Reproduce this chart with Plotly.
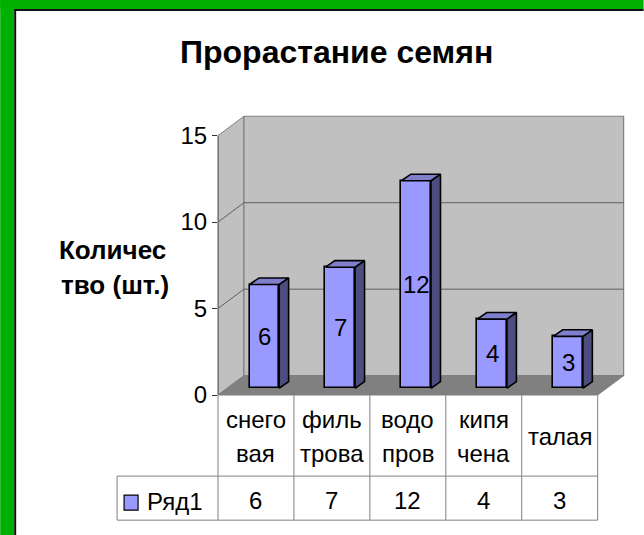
import plotly.graph_objects as go

# ---- data ----
categories = ["снего\nвая", "филь\nтрова", "водо\nпров", "кипя\nчена", "талая"]
values = [6, 7, 12, 4, 3]
series_name = "Ряд1"
y_ticks = [0, 5, 10, 15]
title_text = "Прорастание семян"
y_title_lines = ["Количес", "тво (шт.)"]

# ---- geometry / style ----
W, H = 644, 535
FONT = "Liberation Sans"
DX, DY = 0.342, 1.12          # depth of the 3D box (data units)
BAR_SHIFT_X, BAR_BASE = 0.11, 0.39   # bar front plane inside the box
BAR_W = 0.39
BDX, BDY = 0.125, 0.38        # bar depth
YMAX_WALL = 15
XMAX, YMAX = 5.36, 16.25
PXX, PXY = 76.0, 17.27
L = 218
B = H - 395
T = 395 - YMAX * PXY
R = W - (L + XMAX * PXX)
plot_w = W - L - R
plot_h = H - T - B

def px_x(px):
    return (px - L) / plot_w

def px_y(py):
    return (H - B - py) / plot_h

def dx_paper(xd):
    return xd / XMAX

n = len(values)
centers = [i + 0.5 + BAR_SHIFT_X for i in range(n)]

fig = go.Figure()

# front faces of the bars
fig.add_trace(go.Bar(
    x=centers, y=values, base=BAR_BASE, width=BAR_W,
    marker=dict(color="#9999FF", line=dict(color="black", width=1.6)),
    showlegend=False, hoverinfo="skip",
))

# side and top faces
sx, sy, tx, ty = [], [], [], []
for c, v in zip(centers, values):
    x0, x1 = c - BAR_W / 2, c + BAR_W / 2
    b, t = BAR_BASE, BAR_BASE + v
    sx += [x1, x1 + BDX, x1 + BDX, x1, x1, None]
    sy += [b, b + BDY, t + BDY, t, b, None]
    tx += [x0, x1, x1 + BDX, x0 + BDX, x0, None]
    ty += [t, t, t + BDY, t + BDY, t, None]
fig.add_trace(go.Scatter(x=sx, y=sy, mode="lines", fill="toself", fillcolor="#4D4D80",
                         line=dict(color="black", width=1.6), showlegend=False, hoverinfo="skip"))
fig.add_trace(go.Scatter(x=tx, y=ty, mode="lines", fill="toself", fillcolor="#7F7FCC",
                         line=dict(color="black", width=1.6), showlegend=False, hoverinfo="skip"))

shapes = []

def path(pts):
    return "M " + " L ".join(f"{x},{y}" for x, y in pts) + " Z"

# walls and floor
shapes.append(dict(type="path", xref="x", yref="y", layer="below",
                   path=path([(0, 0), (0, YMAX_WALL), (DX, YMAX_WALL + DY), (DX, DY)]),
                   fillcolor="#C0C0C0", line=dict(color="#808080", width=1)))
shapes.append(dict(type="path", xref="x", yref="y", layer="below",
                   path=path([(DX, DY), (n + DX, DY), (n + DX, YMAX_WALL + DY), (DX, YMAX_WALL + DY)]),
                   fillcolor="#C0C0C0", line=dict(color="#808080", width=1.2)))
shapes.append(dict(type="path", xref="x", yref="y", layer="below",
                   path=path([(0, 0), (n, 0), (n + DX, DY), (DX, DY)]),
                   fillcolor="#808080", line=dict(color="#808080", width=1)))
# gridlines
for v in y_ticks[1:-1]:
    shapes.append(dict(type="line", xref="x", yref="y", layer="below",
                       x0=DX, x1=n + DX, y0=v + DY, y1=v + DY, line=dict(color="#606060", width=1)))
    shapes.append(dict(type="line", xref="x", yref="y", layer="below",
                       x0=0, x1=DX, y0=v, y1=v + DY, line=dict(color="#606060", width=1)))

# value axis line (front-left edge)
shapes.append(dict(type="line", xref="paper", yref="paper",
                   x0=0, x1=0, y0=0, y1=px_y(395 - YMAX_WALL * PXY),
                   line=dict(color="#555555", width=1)))

# data table
GRID = dict(color="#808080", width=1)
row1, row2 = 476, 520
leg_left = 117
shapes.append(dict(type="line", xref="paper", yref="paper", x0=0, x1=dx_paper(n), y0=0, y1=0, line=GRID))
for yy in (row1, row2):
    shapes.append(dict(type="line", xref="paper", yref="paper", x0=px_x(leg_left), x1=dx_paper(n),
                       y0=px_y(yy), y1=px_y(yy), line=GRID))
for i in range(n + 1):
    shapes.append(dict(type="line", xref="paper", yref="paper", x0=dx_paper(i), x1=dx_paper(i),
                       y0=0, y1=px_y(row2), line=GRID))
shapes.append(dict(type="line", xref="paper", yref="paper", x0=px_x(leg_left), x1=px_x(leg_left),
                   y0=px_y(row1), y1=px_y(row2), line=GRID))
# legend key
shapes.append(dict(type="rect", xref="paper", yref="paper", x0=px_x(124), x1=px_x(138),
                   y0=px_y(495), y1=px_y(510), fillcolor="#9999FF", line=dict(color="black", width=1.2)))

# green frame
GREEN = "#00B000"
shapes.append(dict(type="rect", xref="paper", yref="paper", x0=px_x(0), x1=px_x(14),
                   y0=px_y(0), y1=px_y(H), fillcolor=GREEN, line=dict(width=0), layer="above"))
shapes.append(dict(type="rect", xref="paper", yref="paper", x0=px_x(0), x1=px_x(W),
                   y0=px_y(0), y1=px_y(9.5), fillcolor=GREEN, line=dict(width=0), layer="above"))
shapes.append(dict(type="line", xref="paper", yref="paper", x0=px_x(15), x1=px_x(15),
                   y0=px_y(9.5), y1=px_y(H), line=dict(color="#111111", width=2)))
shapes.append(dict(type="line", xref="paper", yref="paper", x0=px_x(14), x1=px_x(W),
                   y0=px_y(10.5), y1=px_y(10.5), line=dict(color="#111111", width=2)))

annotations = []

def ann(text, x, y, size=24, bold=False, xanchor="center"):
    annotations.append(dict(text=f"<b>{text}</b>" if bold else text, x=x, y=y,
                            xref="paper", yref="paper", xanchor=xanchor, yanchor="middle",
                            showarrow=False, font=dict(family=FONT, size=size, color="black")))

# bar value labels
for c, v in zip(centers, values):
    annotations.append(dict(text=str(v), x=c, y=BAR_BASE + v / 2, xref="x", yref="y",
                            showarrow=False, xanchor="center", yanchor="middle",
                            font=dict(family=FONT, size=24, color="black")))

# category row
for i, cat in enumerate(categories):
    parts = cat.split("\n")
    xc = dx_paper(i + 0.5)
    if len(parts) == 1:
        ann(parts[0], xc, px_y(436))
    else:
        ann(parts[0], xc, px_y(419))
        ann(parts[1], xc, px_y(453))
# values row
for i, v in enumerate(values):
    ann(str(v), dx_paper(i + 0.5), px_y(500))
ann(series_name, px_x(145), px_y(501), xanchor="left")

# axis title and chart title
ann(y_title_lines[0], px_x(112), px_y(250), size=26, bold=True)
ann(y_title_lines[1], px_x(115), px_y(285), size=26, bold=True)
ann(title_text, px_x(337), px_y(52), size=32, bold=True)

fig.update_layout(
    width=W, height=H,
    margin=dict(l=L, r=R, t=T, b=B, pad=0, autoexpand=False),
    paper_bgcolor="white", plot_bgcolor="rgba(0,0,0,0)",
    showlegend=False, bargap=0,
    xaxis=dict(range=[0, XMAX], showgrid=False, zeroline=False, showline=False,
               showticklabels=False, ticks="", fixedrange=True),
    yaxis=dict(range=[0, YMAX], tickvals=y_ticks, ticks="outside", ticklen=5, tickwidth=1,
               tickcolor="#333333", showgrid=False, zeroline=False, showline=False,
               tickfont=dict(family=FONT, size=24, color="black"), automargin=False, fixedrange=True),
    shapes=shapes, annotations=annotations,
)

fig.write_html("out.html", config={"displayModeBar": False},
               post_script="document.body.style.margin='0';document.body.style.overflow='hidden';")
